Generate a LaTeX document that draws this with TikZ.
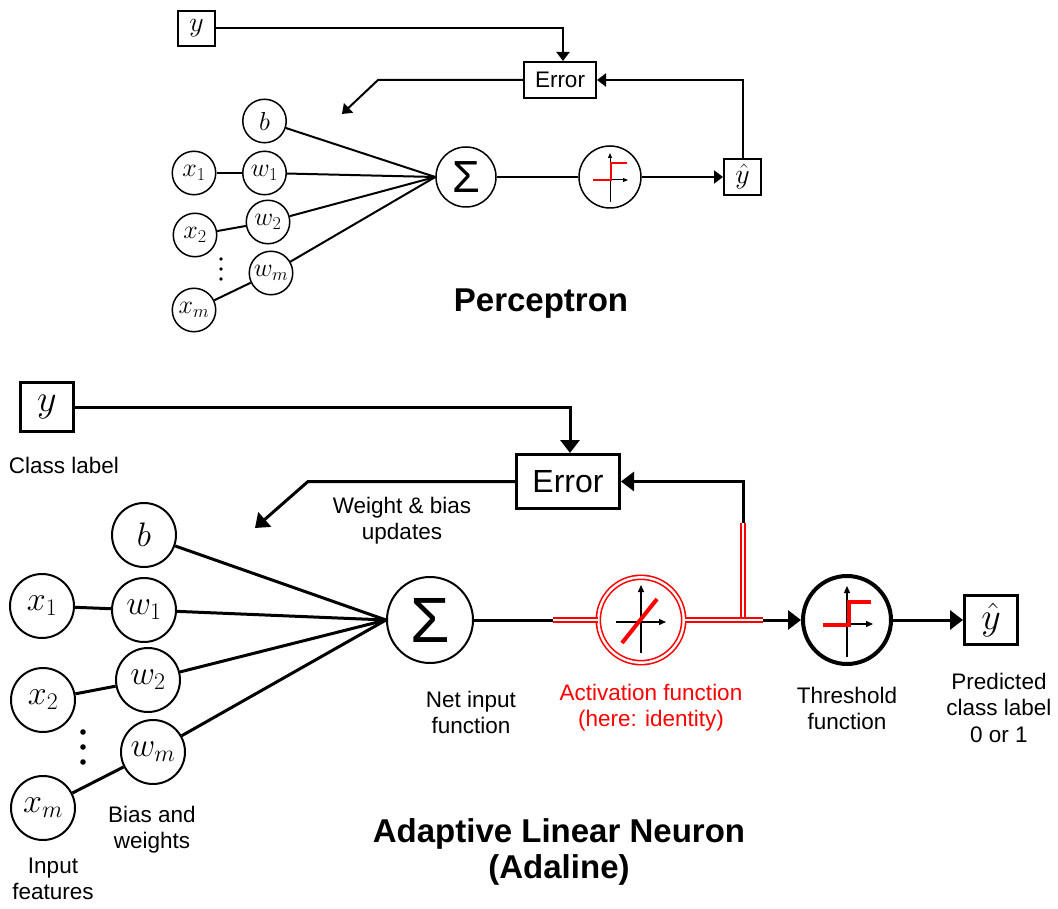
\RequirePackage{fix-cm}
\documentclass[tikz,border=0pt]{standalone}
\usepackage[no-math]{fontspec}
\setmainfont{Liberation Sans}
\usetikzlibrary{arrows.meta}
\newcommand\fLbl{\fontsize{22.5}{26.5}\selectfont}
\newcommand\fTtl{\fontsize{33}{37}\selectfont\bfseries}
\newcommand\fMA{\fontsize{34}{34}\selectfont}
\newcommand\fMP{\fontsize{26}{26}\selectfont}
\newcommand\fBY{\fontsize{38}{38}\selectfont}
\newcommand\fPY{\fontsize{28}{28}\selectfont}
\newcommand\twol[2]{\begin{tabular}[t]{@{}c@{}}#1\\#2\end{tabular}}
\tikzset{
 lnA/.style={line width=3pt},
 lnP/.style={line width=2pt},
 neuA/.style={circle, draw, line width=2pt, minimum size=64pt, inner sep=0pt, font=\fMA},
 neuP/.style={circle, draw, line width=1.5pt, minimum size=43.5pt, inner sep=0pt, font=\fMP},
 boxA/.style={draw, line width=3pt, inner sep=0pt},
 boxP/.style={draw, line width=2pt, inner sep=0pt},
 arrA/.style={-{Triangle[length=13pt,width=19pt]}},
 arrP/.style={-{Triangle[length=9pt,width=13pt]}},
 dbl/.style={draw=red, double=white, line width=1.6pt, double distance=2.4pt},
 axisA/.style={line width=1.3pt, -{Triangle[length=7pt,width=6pt]}},
 axisP/.style={line width=1pt, -{Triangle[length=5pt,width=4pt]}},
 lbl/.style={anchor=base, inner sep=0pt, font=\fLbl},
 ttl/.style={anchor=base, inner sep=0pt, font=\fTtl, align=center},
}
\begin{document}
\begin{tikzpicture}[x=1pt,y=-1pt]
\useasboundingbox (0,0) rectangle (1058,909);

%%%%%%%%%%%%%%%% Perceptron
\node[boxP, minimum width=37pt, minimum height=35pt, font=\fPY] (yP) at (196.5,28.5) {$y$};
\node[boxP, minimum width=72pt, minimum height=36pt, font=\fontsize{22.5}{27}\selectfont] (errP) at (560,80) {Error};
\node[boxP, minimum width=37pt, minimum height=36pt, font=\fPY] (yhP) at (742.5,177) {$\hat{y}$};
\node[neuP] (bP) at (264.5,121) {$b$};
\node[neuP] (x1P) at (194,173) {$x_1$};
\node[neuP] (w1P) at (264.5,173) {$w_1$};
\node[neuP] (x2P) at (195,235) {$x_2$};
\node[neuP] (w2P) at (268,222) {$w_2$};
\node[neuP] (wmP) at (271,273) {$w_m$};
\node[neuP] (xmP) at (194,310) {$x_m$};
\node[circle, draw, line width=1.5pt, minimum size=60pt, inner sep=0pt, font=\fontsize{45}{45}\selectfont] (sigP) at (466,177) {Σ};
\node[circle, draw, line width=1.5pt, minimum size=62pt, inner sep=0pt] (actP) at (610,177) {};
\foreach \yy in {259,269,279} \fill (221,\yy) circle (1.8pt);

\draw[lnP] (x1P) -- (w1P);
\draw[lnP] (x2P) -- (w2P);
\draw[lnP] (xmP) -- (wmP);
\foreach \n in {bP,w1P,w2P,wmP} \draw[lnP] (\n) -- (sigP.west);
\coordinate (cP1) at (563,28.5);
\draw[lnP, arrP] (yP.east) -- (cP1) -- (cP1 |- errP.north);
\coordinate (cP2) at (378,80);
\coordinate (tipP) at (342,114);
\draw[lnP, arrP] (errP.west) -- (cP2) -- (tipP);
\coordinate (cP3) at (742.5,80);
\draw[lnP, arrP] (yhP.north) -- (cP3) -- (errP.east);
\draw[lnP] (sigP) -- (actP);
\draw[lnP, arrP] (actP) -- (yhP);
\begin{scope}[shift={(actP.center)}]
  \draw[axisP] (0,25) -- (0,-24);
  \draw[axisP] (-17,3) -- (18,3);
  \draw[red, line width=2pt] (-17,3) -- (0.5,3) -- (0.5,-14) -- (17,-14);
\end{scope}
\node[ttl] (tP) at (541,312) {Perceptron};

%%%%%%%%%%%%%%%% Adaline
\node[boxA, minimum width=53pt, minimum height=48pt, font=\fBY] (yA) at (47,407) {$y$};
\node[boxA, minimum width=103pt, minimum height=54pt, font=\fontsize{32}{36}\selectfont] (errA) at (568,481.5) {Error};
\node[boxA, minimum width=53pt, minimum height=49pt, font=\fBY] (yhA) at (991,620) {$\hat{y}$};
\node[neuA] (bA) at (144,535) {$b$};
\node[neuA] (x1A) at (42,606) {$x_1$};
\node[neuA] (w1A) at (144,610) {$w_1$};
\node[neuA] (x2A) at (43,700) {$x_2$};
\node[neuA] (w2A) at (148,680) {$w_2$};
\node[neuA] (wmA) at (153,752) {$w_m$};
\node[neuA] (xmA) at (43,808) {$x_m$};
\node[circle, draw, line width=2pt, minimum size=86pt, inner sep=0pt, font=\fontsize{64}{64}\selectfont] (sigA) at (430,620) {Σ};
\node[circle, dbl, minimum size=85.4pt, inner sep=0pt] (actA) at (641,620) {};
\node[circle, draw, line width=4pt, minimum size=88pt, inner sep=0pt] (thA) at (847,620) {};
\foreach \yy in {732,747,762} \fill (83,\yy) circle (2.8pt);

\draw[lnA] (x1A) -- (w1A);
\draw[lnA] (x2A) -- (w2A);
\draw[lnA] (xmA) -- (wmA);
\foreach \n in {bA,w1A,w2A,wmA} \draw[lnA] (\n) -- (sigA.west);
\coordinate (cA1) at (570,407);
\draw[lnA, arrA] (yA.east) -- (cA1) -- (cA1 |- errA.north);
\coordinate (cA2) at (308,481.5);
\coordinate (tipA) at (255,528);
\draw[lnA, arrA] (errA.west) -- (cA2) -- (tipA);
\coordinate (rs) at (553,620);
\coordinate (re) at (763,620);
\coordinate (fbBot) at (743,618);
\coordinate (fbMid) at (743,523);
\coordinate (fbTop) at (743,481.5);
\draw[lnA] (sigA.east) -- (rs);
\draw[dbl] (rs) -- (actA.west);
\draw[dbl] (fbBot) -- (fbMid);
\draw[dbl] (actA.east) -- (re);
\draw[lnA, arrA] (fbMid) -- (fbTop) -- (errA.east);
\draw[lnA, arrA] (re) -- (thA.west);
\draw[lnA, arrA] (thA.east) -- (yhA.west);
\begin{scope}[shift={(actA.center)}]
  \draw[axisA] (0,33) -- (0,-35);
  \draw[axisA] (-25,2) -- (25,2);
  \draw[red, line width=4pt] (-19,23) -- (16,-21);
\end{scope}
\begin{scope}[shift={(thA.center)}]
  \draw[axisA] (0,37) -- (0,-34);
  \draw[axisA] (-24,4) -- (26,4);
  \draw[red, line width=4pt] (-24,5) -- (1.5,5) -- (1.5,-18) -- (24,-18);
\end{scope}

\node[lbl] (lClass) at (64,473) {Class label};
\node[lbl] (lWu) at (402,513) {\twol{Weight \& bias}{updates}};
\node[lbl] (lBw) at (152,822) {\twol{Bias and}{weights}};
\node[lbl] (lIf) at (53,873) {\twol{Input}{features}};
\node[lbl] (lNet) at (471,707) {\twol{Net input}{function}};
\node[lbl, text=red] (lAct) at (651,700) {\twol{Activation function}{(here: identity)}};
\node[lbl] (lTh) at (847,703) {\twol{Threshold}{function}};
\node[lbl] (lPr) at (999,689) {\begin{tabular}[t]{@{}c@{}}Predicted\\class label\\0 or 1\end{tabular}};
\node[anchor=base, inner sep=0pt, font=\fontsize{33}{36.5}\selectfont\bfseries] (tA) at (559,842) {\begin{tabular}[t]{@{}c@{}}Adaptive Linear Neuron\\(Adaline)\end{tabular}};
\end{tikzpicture}
\end{document}
